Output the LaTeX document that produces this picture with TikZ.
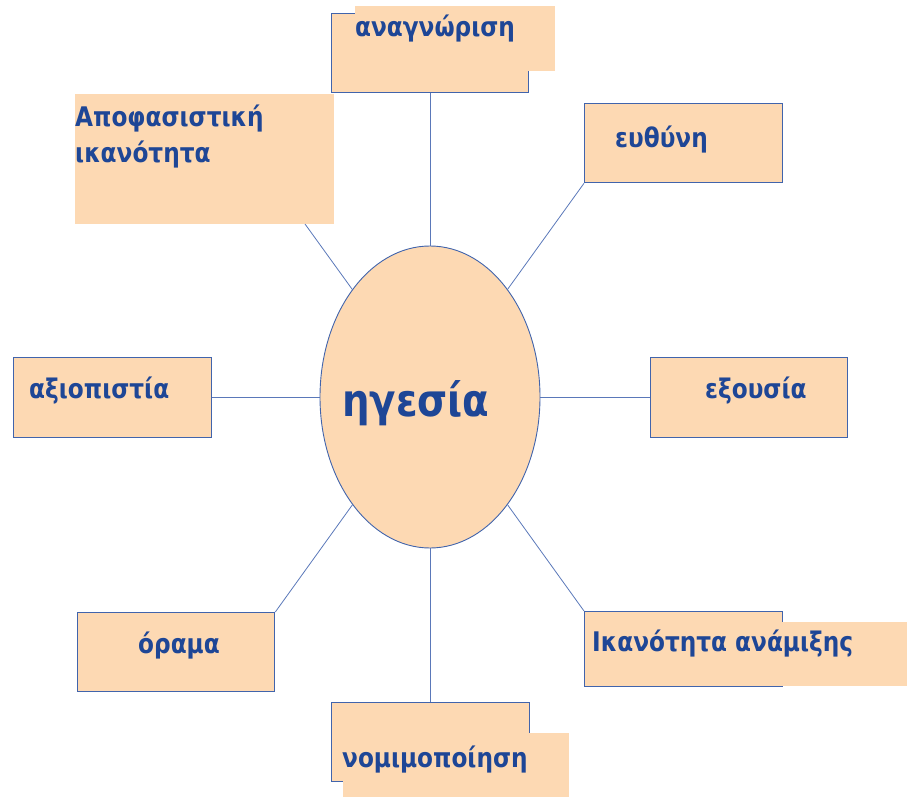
\documentclass[tikz,border=0pt]{standalone}
\usepackage{fontspec}
\newfontfamily\grf[FakeStretch=0.86]{DejaVu Sans}
\usetikzlibrary{shapes.geometric}
\definecolor{peach}{RGB}{253,217,179}
\definecolor{edgeblue}{RGB}{65,100,172}
\definecolor{txtblue}{RGB}{30,70,150}
\definecolor{lineblue}{RGB}{90,120,185}
\tikzset{
  obox/.style={draw=edgeblue, line width=1.3pt, fill=peach, rectangle, inner sep=0pt, anchor=north west},
  fbox/.style={fill=peach, rectangle, inner sep=0pt, anchor=north west},
  lbl/.style={text=txtblue, font=\grf\bfseries\fontsize{27}{36}\selectfont, inner sep=0pt, anchor=base west},
  conn/.style={draw=lineblue, line width=0.8pt}
}
\begin{document}
\begin{tikzpicture}[x=1pt,y=-1pt]
\useasboundingbox (0,0) rectangle (910,799);
% center
\node[ellipse, draw=edgeblue, line width=0.9pt, fill=peach, minimum width=220pt, minimum height=302pt, inner sep=0pt] (ell) at (430,397) {};
\node[lbl, font=\grf\bfseries\fontsize{45}{50}\selectfont] (elltxt) at (342,416) {ηγεσία};
% top
\node[obox, minimum width=197pt, minimum height=79pt] (anag) at (331,13) {};
\node[fbox, minimum width=200pt, minimum height=65pt] (anagf) at (355,6) {};
\node[lbl] (anagtxt) at (355,37) {αναγνώριση};
% upper left
\node[fbox, minimum width=259pt, minimum height=130pt] (apof) at (75,94) {};
\node[lbl, align=left] (apoftxt) at (75,163) {Αποφασιστική\\ικανότητα};
\coordinate (apofend) at (305,224);
% upper right
\node[obox, minimum width=198pt, minimum height=79pt] (euth) at (584,103) {};
\node[lbl] (euthtxt) at (615,148) {ευθύνη};
% right
\node[obox, minimum width=197pt, minimum height=80pt] (exou) at (650,357) {};
\node[lbl] (exoutxt) at (705,399) {εξουσία};
% left
\node[obox, minimum width=198pt, minimum height=80pt] (axio) at (13,357) {};
\node[lbl] (axiotxt) at (29,398) {αξιοπιστία};
% lower left
\node[obox, minimum width=197pt, minimum height=79pt] (oram) at (77,612) {};
\node[lbl] (oramtxt) at (138,653) {όραμα};
% lower right
\node[obox, minimum width=198pt, minimum height=75pt] (ikan) at (584,611) {};
\node[fbox, minimum width=307pt, minimum height=64pt] (ikanf) at (600,622) {};
\node[lbl] (ikantxt) at (592,651) {Ικανότητα ανάμιξης};
% bottom
\node[obox, minimum width=198pt, minimum height=79pt] (nomi) at (331,702) {};
\node[fbox, minimum width=226pt, minimum height=64pt] (nomif) at (343,733) {};
\node[lbl] (nomitxt) at (342,767) {νομιμοποίηση};
% connectors
\draw[conn] (anag.south -| ell.north) -- (ell.north);
\draw[conn] (ell.south) -- (nomi.north -| ell.south);
\draw[conn] (axio.east |- ell.west) -- (ell.west);
\draw[conn] (ell.east) -- (exou.west |- ell.east);
\draw[conn] (apofend) -- (ell);
\draw[conn] (euth.south west) -- (ell);
\draw[conn] (oram.north east) -- (ell);
\draw[conn] (ikan.north west) -- (ell);
\end{tikzpicture}
\end{document}
